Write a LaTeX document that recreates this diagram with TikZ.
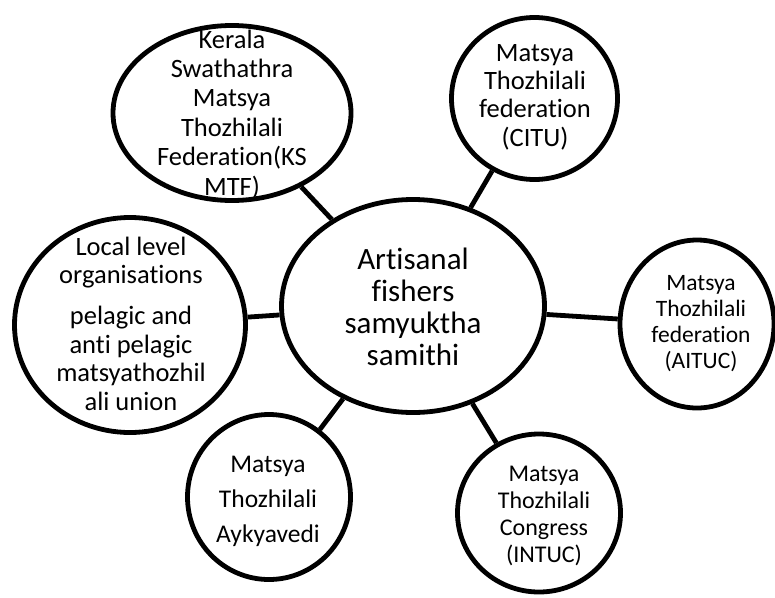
\documentclass[tikz,border=0pt]{standalone}
\usepackage{fontspec}
\setmainfont[Ligatures={NoCommon}]{Carlito}
\usetikzlibrary{shapes.geometric}
\begin{document}
\begin{tikzpicture}[x=1pt,y=-1pt,
  ell/.style={draw=black, line width=4.8pt, ellipse, inner sep=0pt},
  conn/.style={draw=black, line width=4.8pt},
  lbl/.style={align=center, anchor=base, inner sep=0pt}]
\useasboundingbox (0,0) rectangle (775,597);
% shapes
\node[ell, minimum width=238pt, minimum height=175pt] (kerala) at (232,113) {};
\node[ell, minimum width=231pt, minimum height=215pt] (local) at (130,325) {};
\node[ell, minimum width=263pt, minimum height=213pt] (hub) at (413,306) {};
\node[ell, minimum width=166pt, minimum height=162pt] (citu) at (534.5,98.5) {};
\node[ell, minimum width=154pt, minimum height=168pt] (aituc) at (697,324) {};
\node[ell, minimum width=163pt, minimum height=158pt] (intuc) at (539,513) {};
\node[ell, minimum width=163pt, minimum height=165pt] (aiky) at (269,497) {};
% connectors
\draw[conn] (kerala) -- (hub);
\draw[conn] (citu) -- (hub);
\draw[conn] (aituc) -- (hub);
\draw[conn] (intuc) -- (hub);
\draw[conn] (aiky) -- (hub);
\draw[conn] (local) -- (hub);
% texts (anchored at the baseline of the last line)
\node[lbl, font=\fontsize{26.5}{29.4}\selectfont] (tkerala) at (232,195)
  {Kerala\\Swathathra\\Matsya\\Thozhilali\\Federation(KS\\MTF)};
\node[lbl, font=\fontsize{26.5}{28.3}\selectfont] (tcitu) at (535,146)
  {Matsya\\Thozhilali\\federation\\(CITU)};
\node[lbl, font=\fontsize{31}{31.7}\selectfont] (thub) at (413,365)
  {Artisanal\\fishers\\samyuktha\\samithi};
\node[lbl, font=\fontsize{23.5}{26}\selectfont] (taituc) at (701,368)
  {Matsya\\Thozhilali\\federation\\(AITUC)};
\node[lbl, font=\fontsize{24}{27}\selectfont] (tintuc) at (544,562)
  {Matsya\\Thozhilali\\Congress\\(INTUC)};
\node[lbl, font=\fontsize{25.5}{35}\selectfont] (taiky) at (268,542)
  {Matsya\\Thozhilali\\Aykyavedi};
\node[lbl, font=\fontsize{26.5}{28.5}\selectfont] (tlocal) at (131,410)
  {Local level\\organisations\\[12.5pt]pelagic and\\anti pelagic\\matsyathozhil\\ali union};
\end{tikzpicture}
\end{document}
